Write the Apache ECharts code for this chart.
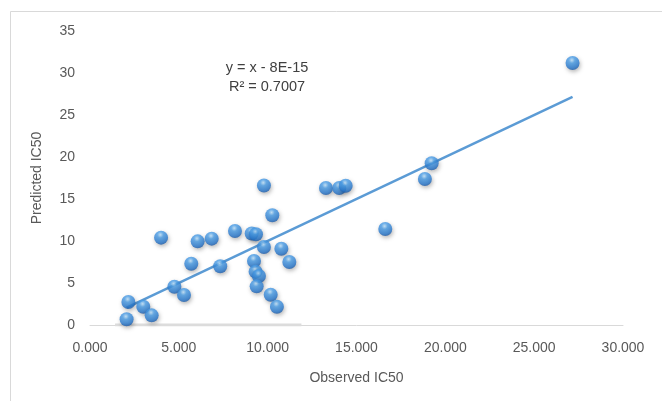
<!DOCTYPE html>
<html>
<head>
<meta charset="utf-8">
<script src="https://cdn.jsdelivr.net/npm/echarts@6/dist/echarts.min.js"></script>
<style>
html,body{margin:0;padding:0;background:#fff;}
#c{width:662px;height:401px;}
</style>
</head>
<body>
<div id="c"></div>
<script>
// Observed IC50 (x) and Predicted IC50 (y)
var observed = [2.06, 2.16, 3.00, 3.47, 4.00, 4.75, 5.29, 5.70, 6.06, 6.85, 7.33, 8.16, 9.10, 9.34, 9.79, 10.26, 9.79, 9.23, 9.32, 9.51, 9.38, 10.17, 10.52, 10.77, 11.22, 27.16, 19.23, 18.85, 13.28, 14.03, 14.39, 16.62];
var predicted = [0.68, 2.74, 2.18, 1.15, 10.40, 4.56, 3.57, 7.30, 9.96, 10.28, 6.99, 11.19, 10.90, 10.80, 16.60, 13.06, 9.29, 7.62, 6.35, 5.83, 4.60, 3.61, 2.18, 9.08, 7.50, 31.19, 19.25, 17.38, 16.31, 16.31, 16.58, 11.43];
// Trendline: y = x - 8E-15
var slope = 1;
var intercept = -8e-15;
var equationText = 'y = x - 8E-15';
var r2Text = 'R\u00B2 = 0.7007';
var xTicks = [0, 5, 10, 15, 20, 25, 30];
var yTicks = [0, 5, 10, 15, 20, 25, 30, 35];
var baseSegment = [1.41, 11.9];

var pts = observed.map(function(x, i){ return [x, predicted[i]]; });
var xmin = Math.min.apply(null, observed), xmax = Math.max.apply(null, observed);
var trend = [[xmin, slope*xmin + intercept], [xmax, slope*xmax + intercept]];

var chart = echarts.init(document.getElementById('c'), null, {renderer:'canvas'});
var font = '"Liberation Sans", "Open Sans", sans-serif';
chart.setOption({
  animation:false,
  backgroundColor:'#fff',
  grid:{left:90, right:39, top:31, bottom:76, containLabel:false},
  graphic:[
    {type:'rect', shape:{x:10.5, y:11.5, width:700, height:450}, style:{fill:'none', stroke:'#d9d9d9', lineWidth:1}, z:-10},
    {type:'text', x:267, y:58, style:{text:equationText+'\n'+r2Text, font:'14.5px '+font, fill:'#404040', align:'center', verticalAlign:'top', lineHeight:19}}
  ],
  xAxis:{
    type:'value', min:xTicks[0], max:xTicks[xTicks.length-1], interval:5,
    name:'Observed IC50', nameLocation:'middle', nameGap:46,
    nameTextStyle:{color:'#595959', fontSize:14, fontFamily:font},
    axisLine:{show:true, lineStyle:{color:'#d9d9d9', width:1}},
    axisTick:{show:false},
    splitLine:{show:false},
    axisLabel:{color:'#595959', fontSize:14, fontFamily:font, margin:16,
      formatter:function(v){ return v.toFixed(3); }}
  },
  yAxis:{
    type:'value', min:yTicks[0], max:yTicks[yTicks.length-1], interval:5,
    name:'Predicted IC50', nameLocation:'middle', nameGap:46,
    nameTextStyle:{color:'#595959', fontSize:14, fontFamily:font},
    axisLine:{show:false}, axisTick:{show:false}, splitLine:{show:false},
    axisLabel:{color:'#595959', fontSize:14, fontFamily:font, margin:15}
  },
  series:[
    {
      type:'line', data:[[baseSegment[0],0],[baseSegment[1],0]], symbol:'none',
      lineStyle:{color:'#dcdcdc', width:3}, z:1, silent:true
    },
    {
      type:'line', data:trend, symbol:'none',
      lineStyle:{color:'#5b9bd5', width:2.5}, z:2
    },
    {
      type:'scatter', data:pts, symbolSize:14, z:3,
      itemStyle:{
        color:{type:'radial', x:0.45, y:0.3, r:0.72, colorStops:[
          {offset:0, color:'#bfe2fb'},
          {offset:0.3, color:'#4c9fe8'},
          {offset:0.75, color:'#2a7bd0'},
          {offset:1, color:'#1a58a6'}
        ]},
        shadowColor:'rgba(0,0,0,0.35)', shadowBlur:4, shadowOffsetX:1, shadowOffsetY:2
      }
    }
  ]
});
</script>
</body>
</html>
